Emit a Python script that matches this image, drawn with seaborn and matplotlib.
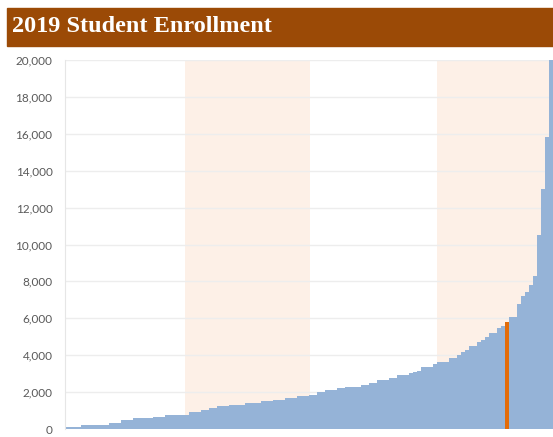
import seaborn as sns
import matplotlib.pyplot as plt
import pandas as pd
import numpy as np

# enrollment per institution, sorted ascending
enrollment = [
    130, 130, 130, 130, 220, 220, 220, 220, 220, 220,
    220, 340, 340, 340, 490, 490, 490, 580, 580, 580,
    580, 580, 670, 670, 670, 760, 760, 760, 760, 760,
    760, 940, 940, 940, 1030, 1030, 1120, 1120, 1250, 1250,
    1250, 1300, 1300, 1300, 1300, 1430, 1430, 1430, 1430, 1500,
    1500, 1500, 1570, 1570, 1570, 1680, 1680, 1680, 1790, 1790,
    1790, 1840, 1840, 2020, 2020, 2110, 2110, 2110, 2200, 2200,
    2290, 2290, 2290, 2290, 2380, 2380, 2510, 2510, 2650, 2650,
    2650, 2760, 2760, 2930, 2930, 2930, 3020, 3080, 3140, 3380,
    3380, 3380, 3500, 3650, 3650, 3650, 3830, 3830, 4010, 4150,
    4280, 4500, 4500, 4730, 4850, 4970, 5190, 5190, 5460, 5600,
    5820, 6050, 6050, 6800, 7200, 7400, 7800, 8300, 10500, 13000,
    15800, 24000,
]
highlight_rank = 110
# shaded rank ranges (second and fourth quartile)
band_start = [30, 93]
band_end = [61.25, 122]

df = pd.DataFrame({'rank': np.arange(len(enrollment)), 'enrollment': enrollment})
df['hl'] = df['rank'] == highlight_rank

sns.set_style('white')
plt.rcParams['font.family'] = ['Lato', 'DejaVu Sans']

fig = plt.figure(figsize=(5.53, 4.37), dpi=100)
ax = fig.add_axes([65 / 553, 8 / 437, 488 / 553, 369 / 437])

for s, e in zip(band_start, band_end):
    ax.axvspan(s - 0.5, e - 0.5, color='#FDF0E7', lw=0, zorder=0)

ax.set_axisbelow(True)
ax.yaxis.grid(True, color='#EDEDED', lw=1)
ax.xaxis.grid(False)

sns.barplot(data=df, x='rank', y='enrollment', hue='hl',
            palette={False: '#95B3D7', True: '#E36C09'}, saturation=1,
            width=1, dodge=False, legend=False, linewidth=0, ax=ax, zorder=2)

ax.set_xlim(-0.5, len(enrollment) - 0.5)
ax.set_ylim(0, 20000)
ax.set_yticks(range(0, 20001, 2000))
ax.set_yticklabels([f'{v:,}' for v in range(0, 20001, 2000)])
ax.set_xticks([])
ax.set_xlabel('')
ax.set_ylabel('')
ax.tick_params(axis='y', length=0, pad=9, labelsize=8.5, labelcolor='#595959')
for side in ['top', 'right', 'bottom']:
    ax.spines[side].set_visible(False)
ax.spines['left'].set_color('#E6E6E6')
ax.patch.set_alpha(0)

# title banner
fig.patches.append(plt.Rectangle((7 / 553, 1 - 46 / 437), 546 / 553, 38 / 437,
                                 transform=fig.transFigure, color='#9B4A06', zorder=0))
fig.text(12 / 553, 1 - 27 / 437, '2019 Student Enrollment', color='white',
         fontsize=17.5, fontweight='bold', family='Liberation Serif', va='center', ha='left')

fig.savefig('out.png', dpi=100)
